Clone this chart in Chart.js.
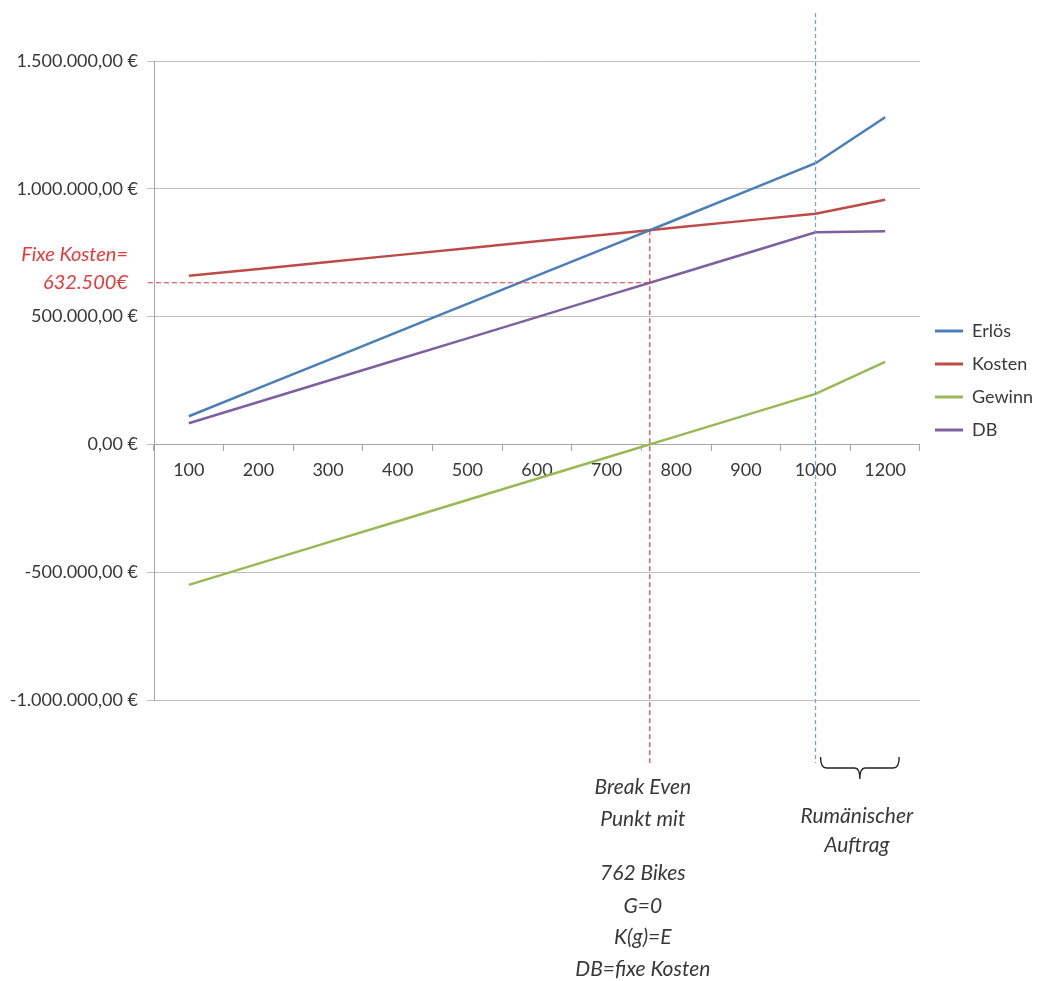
<!DOCTYPE html>
<html>
<head>
<meta charset="utf-8">
<script src="https://cdn.jsdelivr.net/npm/chart.js@4.4.1/dist/chart.umd.min.js"></script>
<style>
  html, body { margin: 0; padding: 0; background: #ffffff; }
  #wrap { width: 1039px; height: 981px; position: relative; }
</style>
</head>
<body>
<div id="wrap"><canvas id="chart" width="1039" height="981"></canvas></div>
<script>
// Stückzahlen (Bikes) auf der Kategorienachse
const categories = ['100', '200', '300', '400', '500', '600', '700', '800', '900', '1000', '1200'];

// Werte je Stückzahl in €
const erloes = [110000, 220000, 330000, 440000, 550000, 660000, 770000, 880000, 990000, 1100000, 1280000];
const kosten = [659500, 686500, 713500, 740500, 767500, 794500, 821500, 848500, 875500, 902500, 957000];
const gewinn = [-549500, -466500, -383500, -300500, -217500, -134500, -51500, 31500, 114500, 197500, 323000];
const deckungsbeitrag = [83000, 166000, 249000, 332000, 415000, 498000, 581000, 664000, 747000, 830000, 834000];

// Achsenbeschriftung der Wertachse
const yTicks = [1500000, 1000000, 500000, 0, -500000, -1000000];

// Kennzahlen für die Markierungen
const fixeKosten = 632500;
const breakEvenBikes = 762;
const auftragVon = '1000';
const auftragBis = '1200';

const FONT = "Lato, 'Open Sans', 'DejaVu Sans', sans-serif";
const TEXT = '#383838';

function euro(v) {
  const neg = v < 0;
  const s = Math.abs(v).toFixed(2).split('.');
  const int = s[0].replace(/\B(?=(\d{3})+(?!\d))/g, '.');
  return (neg ? '-' : '') + int + ',' + s[1] + ' €';
}

// Hilfslinien, Klammer und Erläuterungstexte
const notes = {
  id: 'notes',
  afterDatasetsDraw(chart) {
    const { ctx, scales: { x, y } } = chart;
    const step = x.getPixelForValue(1) - x.getPixelForValue(0);
    const nums = categories.map(Number);
    let i = 0;
    while (i < nums.length - 2 && nums[i + 1] < breakEvenBikes) i++;
    const frac = (breakEvenBikes - nums[i]) / (nums[i + 1] - nums[i]);
    const bx = x.getPixelForValue(i) + frac * step;
    const kBE = kosten[i] + frac * (kosten[i + 1] - kosten[i]);
    const yK = y.getPixelForValue(kBE);
    const yF = y.getPixelForValue(fixeKosten);
    const bottom = 763;

    ctx.save();
    // Break-Even: senkrecht und waagerecht gestrichelt
    ctx.strokeStyle = '#e8393b';
    ctx.lineWidth = 1.2;
    ctx.setLineDash([5, 3]);
    ctx.beginPath();
    ctx.moveTo(bx, yK);
    ctx.lineTo(bx, bottom);
    ctx.moveTo(148, yF);
    ctx.lineTo(bx, yF);
    ctx.stroke();

    // Rumänischer Auftrag: senkrechte Linie bei 1000 Stück
    const ax = x.getPixelForValue(categories.indexOf(auftragVon));
    const bxEnd = x.getPixelForValue(categories.indexOf(auftragBis));
    ctx.strokeStyle = '#6f9fd8';
    ctx.lineWidth = 1.2;
    ctx.setLineDash([4, 3]);
    ctx.beginPath();
    ctx.moveTo(ax, 13);
    ctx.lineTo(ax, bottom);
    ctx.stroke();

    // geschweifte Klammer
    ctx.setLineDash([]);
    ctx.strokeStyle = '#222222';
    ctx.lineWidth = 1.4;
    const l = ax + 5, r = bxEnd + 14, mid = (l + r) / 2;
    ctx.beginPath();
    ctx.moveTo(l, 757);
    ctx.quadraticCurveTo(l, 768, l + 6, 768);
    ctx.lineTo(mid - 5, 768);
    ctx.quadraticCurveTo(mid, 768, mid, 779);
    ctx.quadraticCurveTo(mid, 768, mid + 5, 768);
    ctx.lineTo(r - 6, 768);
    ctx.quadraticCurveTo(r, 768, r, 757);
    ctx.stroke();

    // Texte
    ctx.textBaseline = 'middle';
    ctx.fillStyle = '#e8393b';
    ctx.font = 'italic 20px ' + FONT;
    ctx.textAlign = 'right';
    ctx.fillText('Fixe Kosten=', 128, yF - 28);
    ctx.fillText(fixeKosten.toLocaleString('de-DE') + '€', 128, yF);

    ctx.fillStyle = TEXT;
    ctx.font = 'italic 21px ' + FONT;
    ctx.textAlign = 'center';
    const cx = bx - 7;
    ctx.fillText('Break Even', cx, 787);
    ctx.fillText('Punkt mit', cx, 819);
    ctx.fillText(breakEvenBikes + ' Bikes', cx, 873);
    ctx.fillText('G=0', cx, 906);
    ctx.fillText('K(g)=E', cx, 937);
    ctx.fillText('DB=fixe Kosten', cx, 969);

    ctx.fillText('Rumänischer', mid - 3, 816);
    ctx.fillText('Auftrag', mid - 3, 845);
    ctx.restore();
  }
};

const series = [
  { label: 'Erlös', data: erloes, color: '#4a7ebb' },
  { label: 'Kosten', data: kosten, color: '#be4b48' },
  { label: 'Gewinn', data: gewinn, color: '#98b954' },
  { label: 'DB', data: deckungsbeitrag, color: '#7d60a0' }
];

new Chart(document.getElementById('chart'), {
  type: 'line',
  data: {
    labels: categories,
    datasets: series.map(s => ({
      label: s.label,
      data: s.data,
      borderColor: s.color,
      backgroundColor: s.color,
      borderWidth: 2.5,
      pointRadius: 0,
      tension: 0,
      fill: false
    }))
  },
  options: {
    responsive: false,
    animation: false,
    layout: { padding: { left: 0, top: 61, right: -4, bottom: 281 } },
    plugins: {
      legend: {
        position: 'right',
        align: 'center',
        labels: {
          font: { family: FONT, size: 18 },
          color: TEXT,
          boxWidth: 28,
          boxHeight: 3,
          padding: 15,
          generateLabels(chart) {
            return chart.data.datasets.map((d, i) => ({
              text: d.label,
              fillStyle: d.borderColor,
              strokeStyle: d.borderColor,
              lineWidth: 0,
              fontColor: TEXT,
              datasetIndex: i
            }));
          }
        }
      },
      tooltip: { enabled: false }
    },
    scales: {
      x: {
        type: 'category',
        position: { y: 0 },
        offset: true,
        grid: {
          offset: true,
          drawOnChartArea: false,
          drawTicks: true,
          tickLength: 6,
          color: '#a6a6a6'
        },
        border: { display: true, color: '#a6a6a6', width: 1 },
        ticks: {
          color: TEXT,
          font: { family: FONT, size: 18 },
          padding: 9,
          maxRotation: 0,
          autoSkip: false
        }
      },
      y: {
        min: -1000000,
        max: 1500000,
        afterBuildTicks(scale) {
          scale.ticks = yTicks.map(v => ({ value: v }));
        },
        afterFit(scale) { scale.width = 154; },
        grid: {
          color: '#bfbfbf',
          lineWidth: 1,
          tickLength: 7,
          drawTicks: true
        },
        border: { display: true, color: '#a6a6a6' },
        ticks: {
          color: TEXT,
          font: { family: FONT, size: 18 },
          padding: 9,
          callback: v => euro(v)
        }
      }
    }
  },
  plugins: [notes]
});
</script>
</body>
</html>
